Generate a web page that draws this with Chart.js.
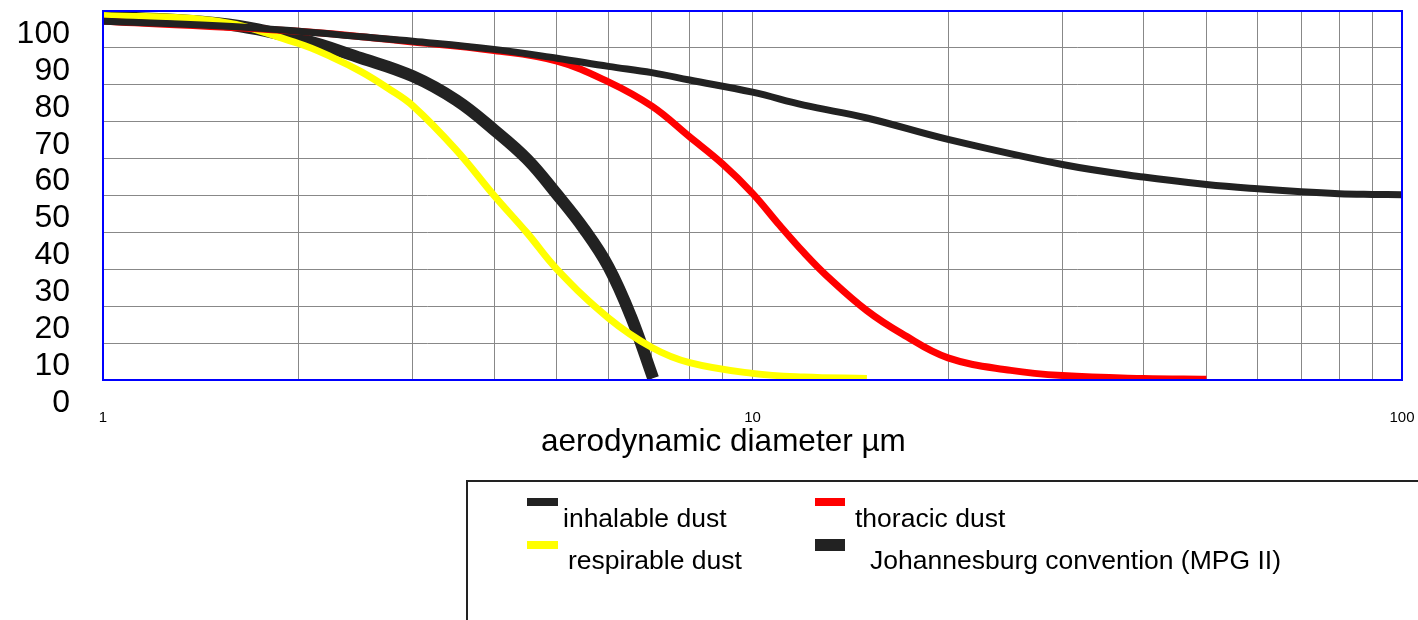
<!DOCTYPE html>
<html>
<head>
<meta charset="utf-8">
<script src="https://cdn.jsdelivr.net/npm/chart.js@4.4.1/dist/chart.umd.min.js"></script>
<style>
    body { margin: 0; background: #fff; font-family: "Liberation Sans", Arial, sans-serif; color: #000; }
    #wrap { position: relative; width: 1418px; height: 620px; overflow: hidden; }
    #chartCanvas { position: absolute; left: 0; top: 0; }
    #xTitle { position: absolute; left: 541px; top: 425px; font-size: 31.5px; line-height: 1; white-space: nowrap; }
    #legendBox { position: absolute; left: 466px; top: 480px; width: 1100px; height: 300px; border: 2px solid #222; }
    .swatch { position: absolute; }
    .legendText { position: absolute; font-size: 26.5px; line-height: 1; white-space: nowrap; }
</style>
</head>
<body>
<div id="wrap">
    <canvas id="chartCanvas" width="1418" height="620"></canvas>
    <div id="xTitle">aerodynamic diameter µm</div>
    <div id="legendBox"></div>
    <div class="swatch" style="left:527px;top:498px;width:31px;height:8px;background:#222;"></div>
    <div class="legendText" style="left:563px;top:505px;">inhalable dust</div>
    <div class="swatch" style="left:815px;top:498px;width:30px;height:8px;background:#ff0000;"></div>
    <div class="legendText" style="left:855px;top:505px;">thoracic dust</div>
    <div class="swatch" style="left:527px;top:541px;width:31px;height:8px;background:#ffff00;"></div>
    <div class="legendText" style="left:568px;top:547px;">respirable dust</div>
    <div class="swatch" style="left:815px;top:539px;width:30px;height:12px;background:#222;"></div>
    <div class="legendText" style="left:870px;top:547px;">Johannesburg convention (MPG II)</div>
</div>
<script>
let inhalableSize = [1, 1.5, 2, 2.5, 3, 4, 5, 6, 7, 8, 10, 12, 15, 20, 30, 40, 50, 60, 70, 80, 90, 100];
let inhalableValue = [97.2, 96, 94.5, 93, 91.8, 89.6, 87.2, 85, 83.3, 81.3, 78, 74.5, 71, 65.2, 58.4, 55, 53, 51.8, 51, 50.5, 50.3, 50.2];

let thoracicSize = [1, 2, 3, 4, 5, 6, 7, 8, 9, 10, 11, 12, 13, 15, 17, 20, 25, 30, 40, 50];
let thoracicValue = [97.2, 94.5, 91.6, 89.3, 86.4, 80.8, 74.2, 65.9, 58.5, 50.6, 42, 34.5, 28.3, 18.8, 12.5, 6, 2.6, 1.2, 0.4, 0.2];

let respirableSize = [1, 1.5, 2, 2.25, 2.5, 2.75, 3, 3.5, 4, 4.5, 5, 6, 7, 8, 10, 12, 15];
let respirableValue = [98.8, 97.2, 91.2, 87.5, 83.5, 79, 74.3, 62.3, 50, 39.8, 30, 16.8, 8.8, 4.7, 1.8, 0.8, 0.4];

let mpgSize = [1, 1.5, 2, 2.5, 3, 3.5, 4, 4.5, 5, 5.5, 6, 6.5, 7.03];
let mpgValue = [98.5, 96.7, 92.5, 87.2, 82.3, 75.8, 67.8, 59.8, 50.3, 41, 30.7, 17.2, 0.5];

let xGridValues = [1, 2, 3, 4, 5, 6, 7, 8, 9, 10, 20, 30, 40, 50, 60, 70, 80, 90, 100];
let xTickLabels = ['1', '10', '100'];

let toPoints = function (sizes, values) {
    return sizes.map((d, i) => ({ x: d, y: values[i] }));
};

let frame = {
    id: 'frame',
    afterDatasetsDraw: function (chart) {
        let ctx = chart.ctx;
        let a = chart.chartArea;
        ctx.save();
        ctx.strokeStyle = '#0000ff';
        ctx.lineWidth = 2;
        ctx.strokeRect(a.left, a.top, a.right - a.left, a.bottom - a.top);
        ctx.restore();
    }
};

let lineStyle = {
    pointRadius: 0,
    fill: false,
    tension: 0.4
};

let config = {
    type: 'line',
    data: {
        datasets: [
            Object.assign({ label: 'inhalable dust', data: toPoints(inhalableSize, inhalableValue), borderColor: '#222', borderWidth: 7 }, lineStyle),
            Object.assign({ label: 'thoracic dust', data: toPoints(thoracicSize, thoracicValue), borderColor: '#ff0000', borderWidth: 7 }, lineStyle),
            Object.assign({ label: 'respirable dust', data: toPoints(respirableSize, respirableValue), borderColor: '#ffff00', borderWidth: 7 }, lineStyle),
            Object.assign({ label: 'Johannesburg convention (MPG II)', data: toPoints(mpgSize, mpgValue), borderColor: '#222', borderWidth: 12 }, lineStyle)
        ]
    },
    options: {
        responsive: false,
        animation: false,
        layout: { padding: { top: 11, right: 16, left: 0, bottom: 0 } },
        plugins: { legend: { display: false }, tooltip: { enabled: false } },
        scales: {
            x: {
                type: 'logarithmic',
                min: 1,
                max: 100,
                afterBuildTicks: function (scale) {
                    scale.ticks = xGridValues.map(v => ({ value: v }));
                },
                afterFit: function (scale) {
                    scale.height = 240;
                    scale.paddingLeft = 0;
                    scale.paddingRight = 0;
                },
                ticks: {
                    autoSkip: false,
                    maxRotation: 0,
                    padding: 29,
                    color: '#000',
                    font: { family: 'Liberation Sans', size: 15 },
                    callback: function (value) {
                        return xTickLabels.includes(String(value)) ? String(value) : '';
                    }
                },
                grid: { color: '#888', lineWidth: 1, drawTicks: false },
                border: { display: false }
            },
            y: {
                min: 0,
                max: 100,
                afterFit: function (scale) {
                    scale.width = 103;
                    scale.paddingTop = 0;
                    scale.paddingBottom = 0;
                },
                ticks: {
                    stepSize: 10,
                    autoSkip: false,
                    padding: 33,
                    labelOffset: 23,
                    color: '#000',
                    font: { family: 'Liberation Sans', size: 32 }
                },
                grid: { color: '#888', lineWidth: 1, drawTicks: false },
                border: { display: false }
            }
        }
    },
    plugins: [frame]
};

let chart = new Chart(document.getElementById('chartCanvas').getContext('2d'), config);
</script>
</body>
</html>
